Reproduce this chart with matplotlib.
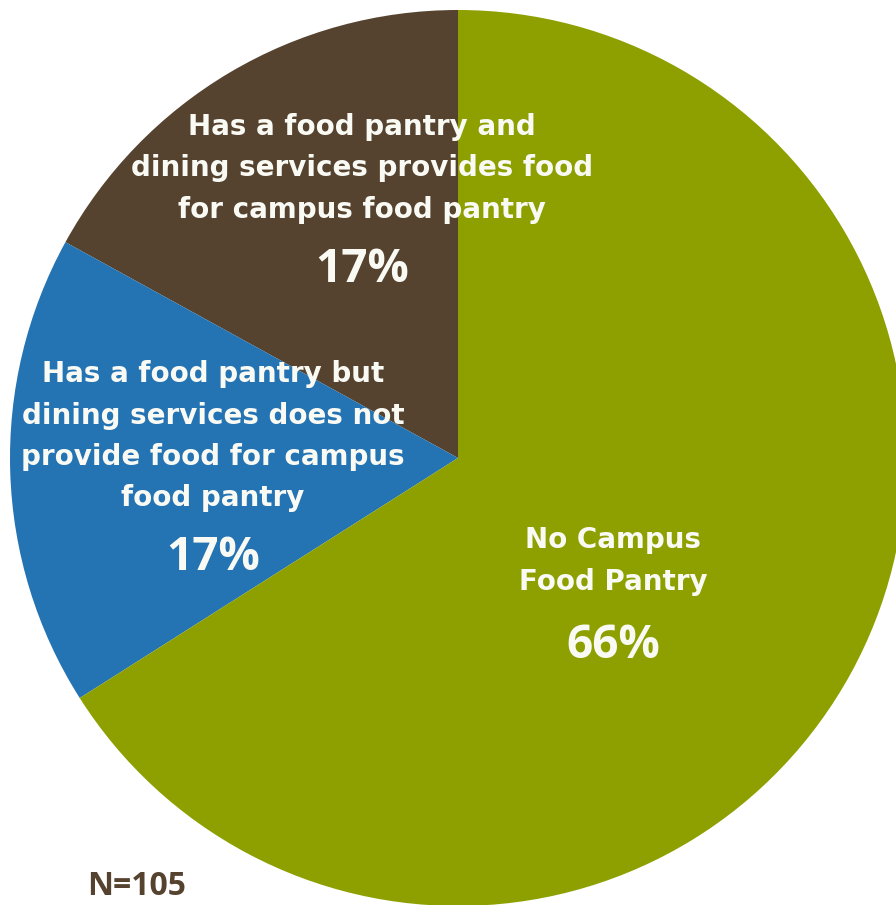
import matplotlib
matplotlib.use("Agg")
import matplotlib.pyplot as plt

# Campus food pantry status (share of respondents)
categories = [
    "Has a food pantry and\ndining services provides food\nfor campus food pantry",
    "Has a food pantry but\ndining services does not\nprovide food for campus\nfood pantry",
    "No Campus\nFood Pantry",
]
shares = [17, 17, 66]
colors = ["#56432F", "#2473B3", "#8DA000"]
sample_note = "N=105"

W, H = 896, 905
fig = plt.figure(figsize=(W / 100, H / 100), dpi=100)
ax = fig.add_axes([0, 0, 1, 1])

cx, cy, r = 458, H - 458, 448
ax.pie(shares, colors=colors, startangle=90, counterclock=True,
       center=(cx, cy), radius=r, frame=True,
       wedgeprops=dict(linewidth=0))
ax.set_xlim(0, W)
ax.set_ylim(0, H)
ax.set_aspect("equal")
ax.axis("off")

label_font = "DejaVu Sans"
value_font = "Open Sans"
txt = "#FAFAF5"
line_gap = 41.5
# (centre x, first baseline, value baseline) per label block, in pixels from top
label_pos = [(362, 135, 282), (213, 382, 570), (613, 548, 658)]
for cat, val, (x, y0, vy) in zip(categories, shares, label_pos):
    for i, line in enumerate(cat.split("\n")):
        ax.text(x, H - (y0 + i * line_gap), line, ha="center", va="baseline",
                color=txt, fontsize=20, fontweight="bold", family=label_font)
    ax.text(x, H - vy, f"{val}%", ha="center", va="baseline", color=txt,
            fontsize=33, fontweight="bold", family=value_font)

ax.text(137, 2, sample_note, ha="center", va="bottom", color="#56432F",
        fontsize=23, fontweight="bold", family=value_font)

fig.savefig("out.png", dpi=100)
